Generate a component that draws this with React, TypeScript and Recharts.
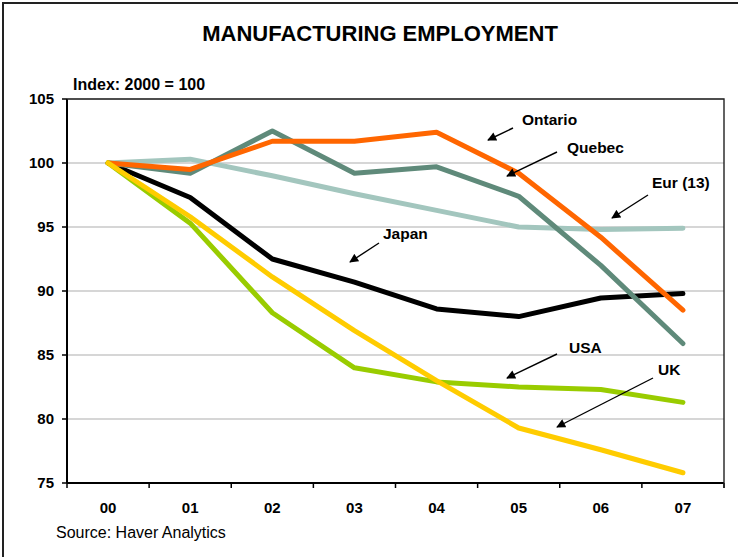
import React from 'react';
import { LineChart, Line, XAxis, YAxis, CartesianGrid } from 'recharts';

const years = ['00', '01', '02', '03', '04', '05', '06', '07'];
const ontario = [100, 99.5, 101.7, 101.7, 102.4, 99.2, 94.2, 88.5];
const quebec = [100, 99.2, 102.5, 99.2, 99.7, 97.4, 92.0, 85.9];
const eur13 = [100, 100.3, 99.0, 97.6, 96.3, 95.0, 94.8, 94.9];
const japan = [100, 97.3, 92.5, 90.7, 88.6, 88.0, 89.45, 89.8];
const usa = [100, 95.3, 88.3, 84.0, 82.9, 82.5, 82.3, 81.3];
const uk = [100, 95.8, 91.1, 86.9, 83.0, 79.3, 77.6, 75.8];
const yTicks = [75, 80, 85, 90, 95, 100, 105];

const data = years.map((year, i) => ({
  year,
  ontario: ontario[i],
  quebec: quebec[i],
  eur13: eur13[i],
  japan: japan[i],
  usa: usa[i],
  uk: uk[i],
}));

// label text + arrow (from -> to), in page pixels
const notes = [
  { text: 'Ontario', x: 522, y: 119, from: [513, 128], to: [488, 140] },
  { text: 'Quebec', x: 567, y: 147, from: [557, 152], to: [507, 176] },
  { text: 'Eur (13)', x: 652, y: 182, from: [648, 195], to: [612, 218] },
  { text: 'Japan', x: 383, y: 233, from: [379, 243], to: [350, 262] },
  { text: 'USA', x: 569, y: 347, from: [557, 354], to: [507, 378] },
  { text: 'UK', x: 658, y: 369, from: [653, 378], to: [557, 427] },
];

const FONT = '"Liberation Sans", Arial, sans-serif';
const W = 738;
const H = 557;
const PLOT = { left: 67, top: 99, right: 724, bottom: 483 };
const HALF = (PLOT.right - PLOT.left) / 16;

function YearTick(props: any) {
  const { x, y, payload, index } = props;
  return (
    <g>
      <line x1={x - HALF} y1={y} x2={x - HALF} y2={y + 5} stroke="#000" strokeWidth={1.5} />
      {index === years.length - 1 && (
        <line x1={x + HALF} y1={y} x2={x + HALF} y2={y + 5} stroke="#000" strokeWidth={1.5} />
      )}
      <text x={x} y={y + 29.5} textAnchor="middle" fontSize={15} fontWeight="bold" fill="#000" fontFamily={FONT}>
        {payload.value}
      </text>
    </g>
  );
}

export default function App() {
  const lineProps = {
    type: 'linear' as const,
    strokeWidth: 5,
    dot: false,
    activeDot: false,
    isAnimationActive: false,
    strokeLinecap: 'round' as const,
    strokeLinejoin: 'round' as const,
  };

  return (
    <div style={{ position: 'absolute', left: 0, top: 0, width: W, height: H, background: '#fff', fontFamily: FONT }}>
      <div style={{ position: 'absolute', left: 2, top: 2, width: W - 2, height: H - 2, borderLeft: '2px solid #222', borderTop: '2px solid #222' }} />
      <div style={{ position: 'absolute', left: 0, width: 760, top: 21, lineHeight: '26px', textAlign: 'center', fontSize: 22, fontWeight: 'bold', color: '#000' }}>
        MANUFACTURING EMPLOYMENT
      </div>
      <div style={{ position: 'absolute', left: 73, top: 76, lineHeight: '18px', fontSize: 16, fontWeight: 'bold', color: '#000' }}>
        Index: 2000 = 100
      </div>
      <div style={{ position: 'absolute', left: 56, top: 524, lineHeight: '18px', fontSize: 16, color: '#000' }}>
        Source: Haver Analytics
      </div>

      <div style={{ position: 'absolute', left: 0, top: 0 }}>
        <LineChart width={W} height={H} data={data} margin={{ top: PLOT.top, right: W - PLOT.right, bottom: 44, left: 7 }}>
          <CartesianGrid vertical={false} stroke="#C8C8C8" strokeWidth={1.3} />
          <XAxis
            dataKey="year"
            height={30}
            padding={{ left: HALF, right: HALF }}
            axisLine={{ stroke: '#000', strokeWidth: 2 }}
            tickLine={false}
            tickSize={0}
            tickMargin={0}
            tick={<YearTick />}
            interval={0}
          />
          <YAxis
            width={60}
            domain={[75, 105]}
            ticks={yTicks}
            interval={0}
            axisLine={{ stroke: '#000', strokeWidth: 2 }}
            tickLine={{ stroke: '#000', strokeWidth: 1.5 }}
            tickSize={5}
            tickMargin={8}
            tick={{ fill: '#000', fontSize: 15, fontWeight: 'bold', fontFamily: FONT }}
          />
          <Line {...lineProps} dataKey="japan" stroke="#000000" />
          <Line {...lineProps} dataKey="eur13" stroke="#A3C6BE" />
          <Line {...lineProps} dataKey="quebec" stroke="#5F8A7A" />
          <Line {...lineProps} dataKey="ontario" stroke="#FF6600" />
          <Line {...lineProps} dataKey="usa" stroke="#99CC00" />
          <Line {...lineProps} dataKey="uk" stroke="#FFCC00" />
        </LineChart>
      </div>

      {/* plot frame top/right + annotations */}
      <svg width={W} height={H} style={{ position: 'absolute', left: 0, top: 0, pointerEvents: 'none' }}>
        <defs>
          <marker id="head" viewBox="0 0 10 10" refX="9" refY="5" markerWidth="10" markerHeight="9" orient="auto" markerUnits="userSpaceOnUse">
            <path d="M0,0 L10,5 L0,10 z" fill="#000" />
          </marker>
        </defs>
        <polyline
          points={`${PLOT.left},${PLOT.top} ${PLOT.right},${PLOT.top} ${PLOT.right},${PLOT.bottom + 5}`}
          fill="none"
          stroke="#222"
          strokeWidth={1.4}
        />
        {notes.map((n) => (
          <g key={n.text}>
            <text x={n.x} y={n.y} dy="0.36em" fontSize={15.5} fontWeight="bold" fill="#000" fontFamily={FONT}>
              {n.text}
            </text>
            <line x1={n.from[0]} y1={n.from[1]} x2={n.to[0]} y2={n.to[1]} stroke="#000" strokeWidth={1.4} markerEnd="url(#head)" />
          </g>
        ))}
      </svg>
    </div>
  );
}
